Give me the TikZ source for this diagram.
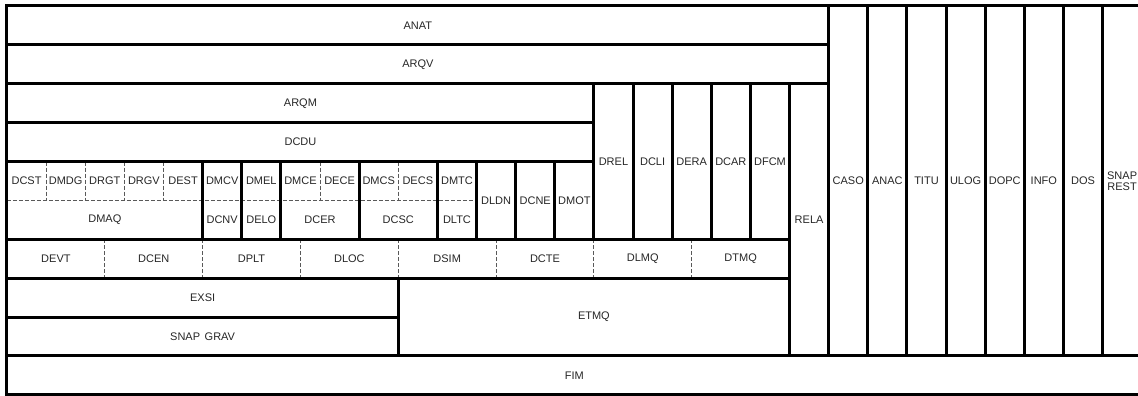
\documentclass[tikz,border=0pt]{standalone}
\usepackage{fontspec}
\setmainfont{Liberation Sans}
\newcommand{\cellb}[6]{%
  \draw[blk] (#1,#2) rectangle (#3,#4);
  \node[lbl] (#5) at ({(#1+#3)/2},{(#2+#4)/2}) {#6};}
\begin{document}
\begin{tikzpicture}[x=39.14pt, y=-38.9pt,
  blk/.style={draw=black, line width=3pt, line cap=rect, line join=miter},
  sep/.style={draw=black!65, line width=0.9pt, dash pattern=on 4pt off 2pt},
  lbl/.style={font=\fontsize{11}{12}\selectfont, inner sep=0pt, align=center, text=black!85}]
\useasboundingbox (-0.1788,-0.1542) rectangle (28.906,10.026);

% dashed separators
\draw[sep] (0,5) -- (12,5);
\foreach \c in {1,2,3,4,8,10} { \draw[sep] (\c,4) -- (\c,5); }
\foreach \c in {2.5,5,7.5,10,12.5,15,17.5} { \draw[sep] (\c,6) -- (\c,7); }

% dashed sub-cells (labels only)
\node[lbl] (dcst) at (0.5,4.5) {DCST};
\node[lbl] (dmdg) at (1.5,4.5) {DMDG};
\node[lbl] (drgt) at (2.5,4.5) {DRGT};
\node[lbl] (drgv) at (3.5,4.5) {DRGV};
\node[lbl] (dest) at (4.5,4.5) {DEST};
\node[lbl] (dmaq) at (2.5,5.5) {DMAQ};
\node[lbl] (dmcv) at (5.5,4.5) {DMCV};
\node[lbl] (dcnv) at (5.5,5.5) {DCNV};
\node[lbl] (dmel) at (6.5,4.5) {DMEL};
\node[lbl] (delo) at (6.5,5.5) {DELO};
\node[lbl] (dmce) at (7.5,4.5) {DMCE};
\node[lbl] (dece) at (8.5,4.5) {DECE};
\node[lbl] (dcer) at (8,5.5) {DCER};
\node[lbl] (dmcs) at (9.5,4.5) {DMCS};
\node[lbl] (decs) at (10.5,4.5) {DECS};
\node[lbl] (dcsc) at (10,5.5) {DCSC};
\node[lbl] (dmtc) at (11.5,4.5) {DMTC};
\node[lbl] (dltc) at (11.5,5.5) {DLTC};
\node[lbl] (devt) at (1.25,6.5) {DEVT};
\node[lbl] (dcen) at (3.75,6.5) {DCEN};
\node[lbl] (dplt) at (6.25,6.5) {DPLT};
\node[lbl] (dloc) at (8.75,6.5) {DLOC};
\node[lbl] (dsim) at (11.25,6.5) {DSIM};
\node[lbl] (dcte) at (13.75,6.5) {DCTE};
\node[lbl] (dlmq) at (16.25,6.5) {DLMQ};
\node[lbl] (dtmq) at (18.75,6.5) {DTMQ};

% solid blocks
\cellb{0}{0}{21}{1}{anat}{ANAT}
\cellb{0}{1}{21}{2}{arqv}{ARQV}
\cellb{0}{2}{15}{3}{arqm}{ARQM}
\cellb{0}{3}{15}{4}{dcdu}{DCDU}
\draw[blk] (0,4) rectangle (5,6);
\draw[blk] (5,4) rectangle (6,6);
\draw[blk] (6,4) rectangle (7,6);
\draw[blk] (7,4) rectangle (9,6);
\draw[blk] (9,4) rectangle (11,6);
\draw[blk] (11,4) rectangle (12,6);
\cellb{12}{4}{13}{6}{dldn}{DLDN}
\cellb{13}{4}{14}{6}{dcne}{DCNE}
\cellb{14}{4}{15}{6}{dmot}{DMOT}
\cellb{15}{2}{16}{6}{drel}{DREL}
\cellb{16}{2}{17}{6}{dcli}{DCLI}
\cellb{17}{2}{18}{6}{dera}{DERA}
\cellb{18}{2}{19}{6}{dcar}{DCAR}
\cellb{19}{2}{20}{6}{dfcm}{DFCM}
\cellb{20}{2}{21}{9}{rela}{RELA}
\draw[blk] (0,6) rectangle (20,7);
\cellb{0}{7}{10}{8}{exsi}{EXSI}
\cellb{0}{8}{10}{9}{snapgrav}{SNAP\hspace{1.5pt} GRAV}
\cellb{10}{7}{20}{9}{etmq}{ETMQ}
\cellb{21}{0}{22}{9}{caso}{CASO}
\cellb{22}{0}{23}{9}{anac}{ANAC}
\cellb{23}{0}{24}{9}{titu}{TITU}
\cellb{24}{0}{25}{9}{ulog}{ULOG}
\cellb{25}{0}{26}{9}{dopc}{DOPC}
\cellb{26}{0}{27}{9}{info}{INFO}
\cellb{27}{0}{28}{9}{dos}{DOS}
\cellb{28}{0}{29}{9}{snaprest}{SNAP\\[-1pt]REST}
\cellb{0}{9}{29}{10}{fim}{FIM}
\end{tikzpicture}
\end{document}
